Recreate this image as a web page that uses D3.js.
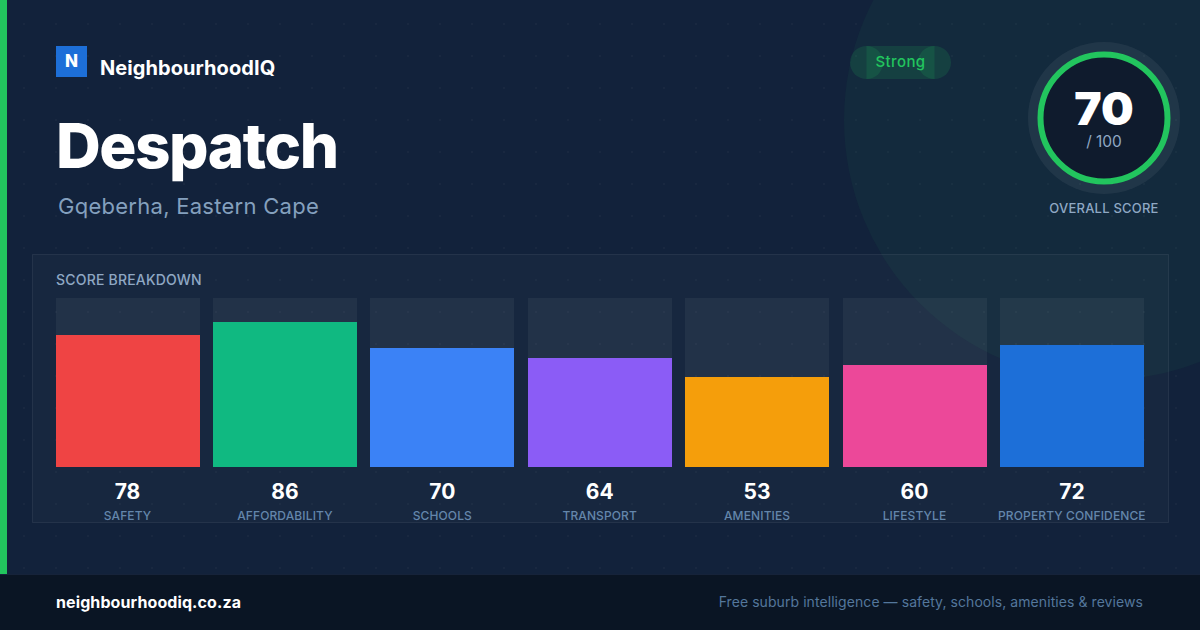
<!DOCTYPE html>
<html><head><meta charset="utf-8">
<script src="https://cdn.jsdelivr.net/npm/d3@7"></script>
<style>html,body{margin:0;padding:0;background:#12223b;overflow:hidden}svg{display:block}text{font-family:Inter,sans-serif}</style>
</head><body><svg id="c" width="1200" height="630"></svg>
<script>
const categories=["SAFETY","AFFORDABILITY","SCHOOLS","TRANSPORT","AMENITIES","LIFESTYLE","PROPERTY CONFIDENCE"];
const values=[78,86,70,64,53,60,72];
const colors=["#ef4444","#10b981","#3b82f6","#8b5cf6","#f59e0b","#ec4899","#1d6fd8"];
const overall=70;
const svg=d3.select("#c");
const defs=svg.append("defs");
const pat=defs.append("pattern").attr("id","dots").attr("width",32).attr("height",32).attr("patternUnits","userSpaceOnUse");
pat.append("circle").attr("cx",24).attr("cy",24).attr("r",1).attr("fill","#ffffff").attr("fill-opacity",0.035);
svg.append("rect").attr("width",1200).attr("height",630).attr("fill","#12223b");
svg.append("circle").attr("cx",1104).attr("cy",120).attr("r",260).attr("fill","#22c55e").attr("fill-opacity",0.05);
svg.append("rect").attr("x",32.5).attr("y",254.5).attr("width",1136).attr("height",268).attr("fill","#ffffff").attr("fill-opacity",0.025).attr("stroke","#ffffff").attr("stroke-opacity",0.07);
svg.append("rect").attr("width",1200).attr("height",630).attr("fill","url(#dots)");
svg.append("rect").attr("width",7).attr("height",574).attr("fill","#22c55e");
svg.append("rect").attr("y",574).attr("width",1200).attr("height",56).attr("fill","#0a1524");
svg.append("rect").attr("y",574).attr("width",1200).attr("height",1).attr("fill","#16233a");
// header
svg.append("rect").attr("x",56).attr("y",46).attr("width",31).attr("height",31).attr("fill","#1d6fd8");
svg.append("text").attr("x",71.5).attr("y",67).attr("text-anchor","middle").attr("font-size",17).attr("font-weight",800).attr("fill","#fff").text("N");
svg.append("text").attr("x",100).attr("y",75).attr("font-size",20).attr("font-weight",700).attr("letter-spacing",0.07).attr("fill","#fff").text("NeighbourhoodIQ");
svg.append("text").attr("x",56).attr("y",168).attr("font-size",62).attr("font-weight",800).attr("letter-spacing",-1.5).attr("fill","#fff").text("Despatch");
svg.append("text").attr("x",58).attr("y",214).attr("font-size",22).attr("letter-spacing",0.27).attr("fill","#84a0be").text("Gqeberha, Eastern Cape");
// pill: centre band plus two end circles, each translucent
const pillFill="#22c55e", pillAlpha=0.15;
svg.append("rect").attr("x",866.5).attr("y",46).attr("width",68).attr("height",33).attr("fill",pillFill).attr("fill-opacity",pillAlpha);
svg.append("circle").attr("cx",866.5).attr("cy",62.5).attr("r",16.5).attr("fill",pillFill).attr("fill-opacity",pillAlpha);
svg.append("circle").attr("cx",934.5).attr("cy",62.5).attr("r",16.5).attr("fill",pillFill).attr("fill-opacity",pillAlpha);
svg.append("text").attr("x",900.5).attr("y",67).attr("text-anchor","middle").attr("font-size",15).attr("font-weight",500).attr("letter-spacing",0.4).attr("fill","#22c55e").text("Strong");
// gauge
const cx=1104,cy=118;
svg.append("circle").attr("cx",cx).attr("cy",cy).attr("r",76).attr("fill","#ffffff").attr("fill-opacity",0.06);
svg.append("circle").attr("cx",cx).attr("cy",cy).attr("r",63.5).attr("fill","#0f1b2d").attr("stroke","#22c55e").attr("stroke-width",6);
svg.append("text").attr("x",cx).attr("y",125).attr("text-anchor","middle").attr("font-size",46).attr("font-weight",900).attr("fill","#fff").text(overall);
svg.append("text").attr("x",cx).attr("y",147).attr("text-anchor","middle").attr("font-size",15.5).attr("letter-spacing",-0.1).attr("fill","#8fa8c4").text("/ 100");
svg.append("text").attr("x",cx).attr("y",213).attr("text-anchor","middle").attr("font-size",13).attr("font-weight",500).attr("letter-spacing",0.22).attr("fill","#8fa8c4").text("OVERALL SCORE");
// chart
svg.append("text").attr("x",56).attr("y",285).attr("font-size",14).attr("font-weight",500).attr("letter-spacing",0.2).attr("fill","#8fa8c4").text("SCORE BREAKDOWN");
const x=d3.scaleBand().domain(categories).range([55.6,1144]).paddingInner(13.4/157.4);
const y=d3.scaleLinear().domain([0,100]).range([466,298]);
const g=svg.append("g").selectAll("g").data(categories).join("g");
g.append("rect").attr("shape-rendering","crispEdges").attr("x",d=>x(d)).attr("y",y(100)).attr("width",x.bandwidth()).attr("height",y(0)-y(100)+1).attr("fill","#ffffff").attr("fill-opacity",0.05);
g.append("rect").attr("shape-rendering","crispEdges").attr("x",d=>x(d)).attr("y",(d,i)=>y(values[i])).attr("width",x.bandwidth()).attr("height",(d,i)=>y(0)-y(values[i])+1).attr("fill",(d,i)=>colors[i]);
g.append("text").attr("x",d=>x(d)+x.bandwidth()/2-0.1).attr("y",499).attr("text-anchor","middle").attr("font-size",21).attr("font-weight",700).attr("fill","#fff").text((d,i)=>values[i]);
g.append("text").attr("x",d=>x(d)+x.bandwidth()/2-0.1).attr("y",520).attr("text-anchor","middle").attr("font-size",12).attr("font-weight",500).attr("letter-spacing",0.12).attr("fill","#6486ab").text(d=>d);
// footer
svg.append("text").attr("x",56).attr("y",608).attr("font-size",16).attr("font-weight",700).attr("letter-spacing",0.1).attr("fill","#fff").text("neighbourhoodiq.co.za");
svg.append("text").attr("x",1143).attr("y",607).attr("text-anchor","end").attr("font-size",14).attr("letter-spacing",0.07).attr("fill","#54779c").text("Free suburb intelligence — safety, schools, amenities & reviews");
</script></body></html>
